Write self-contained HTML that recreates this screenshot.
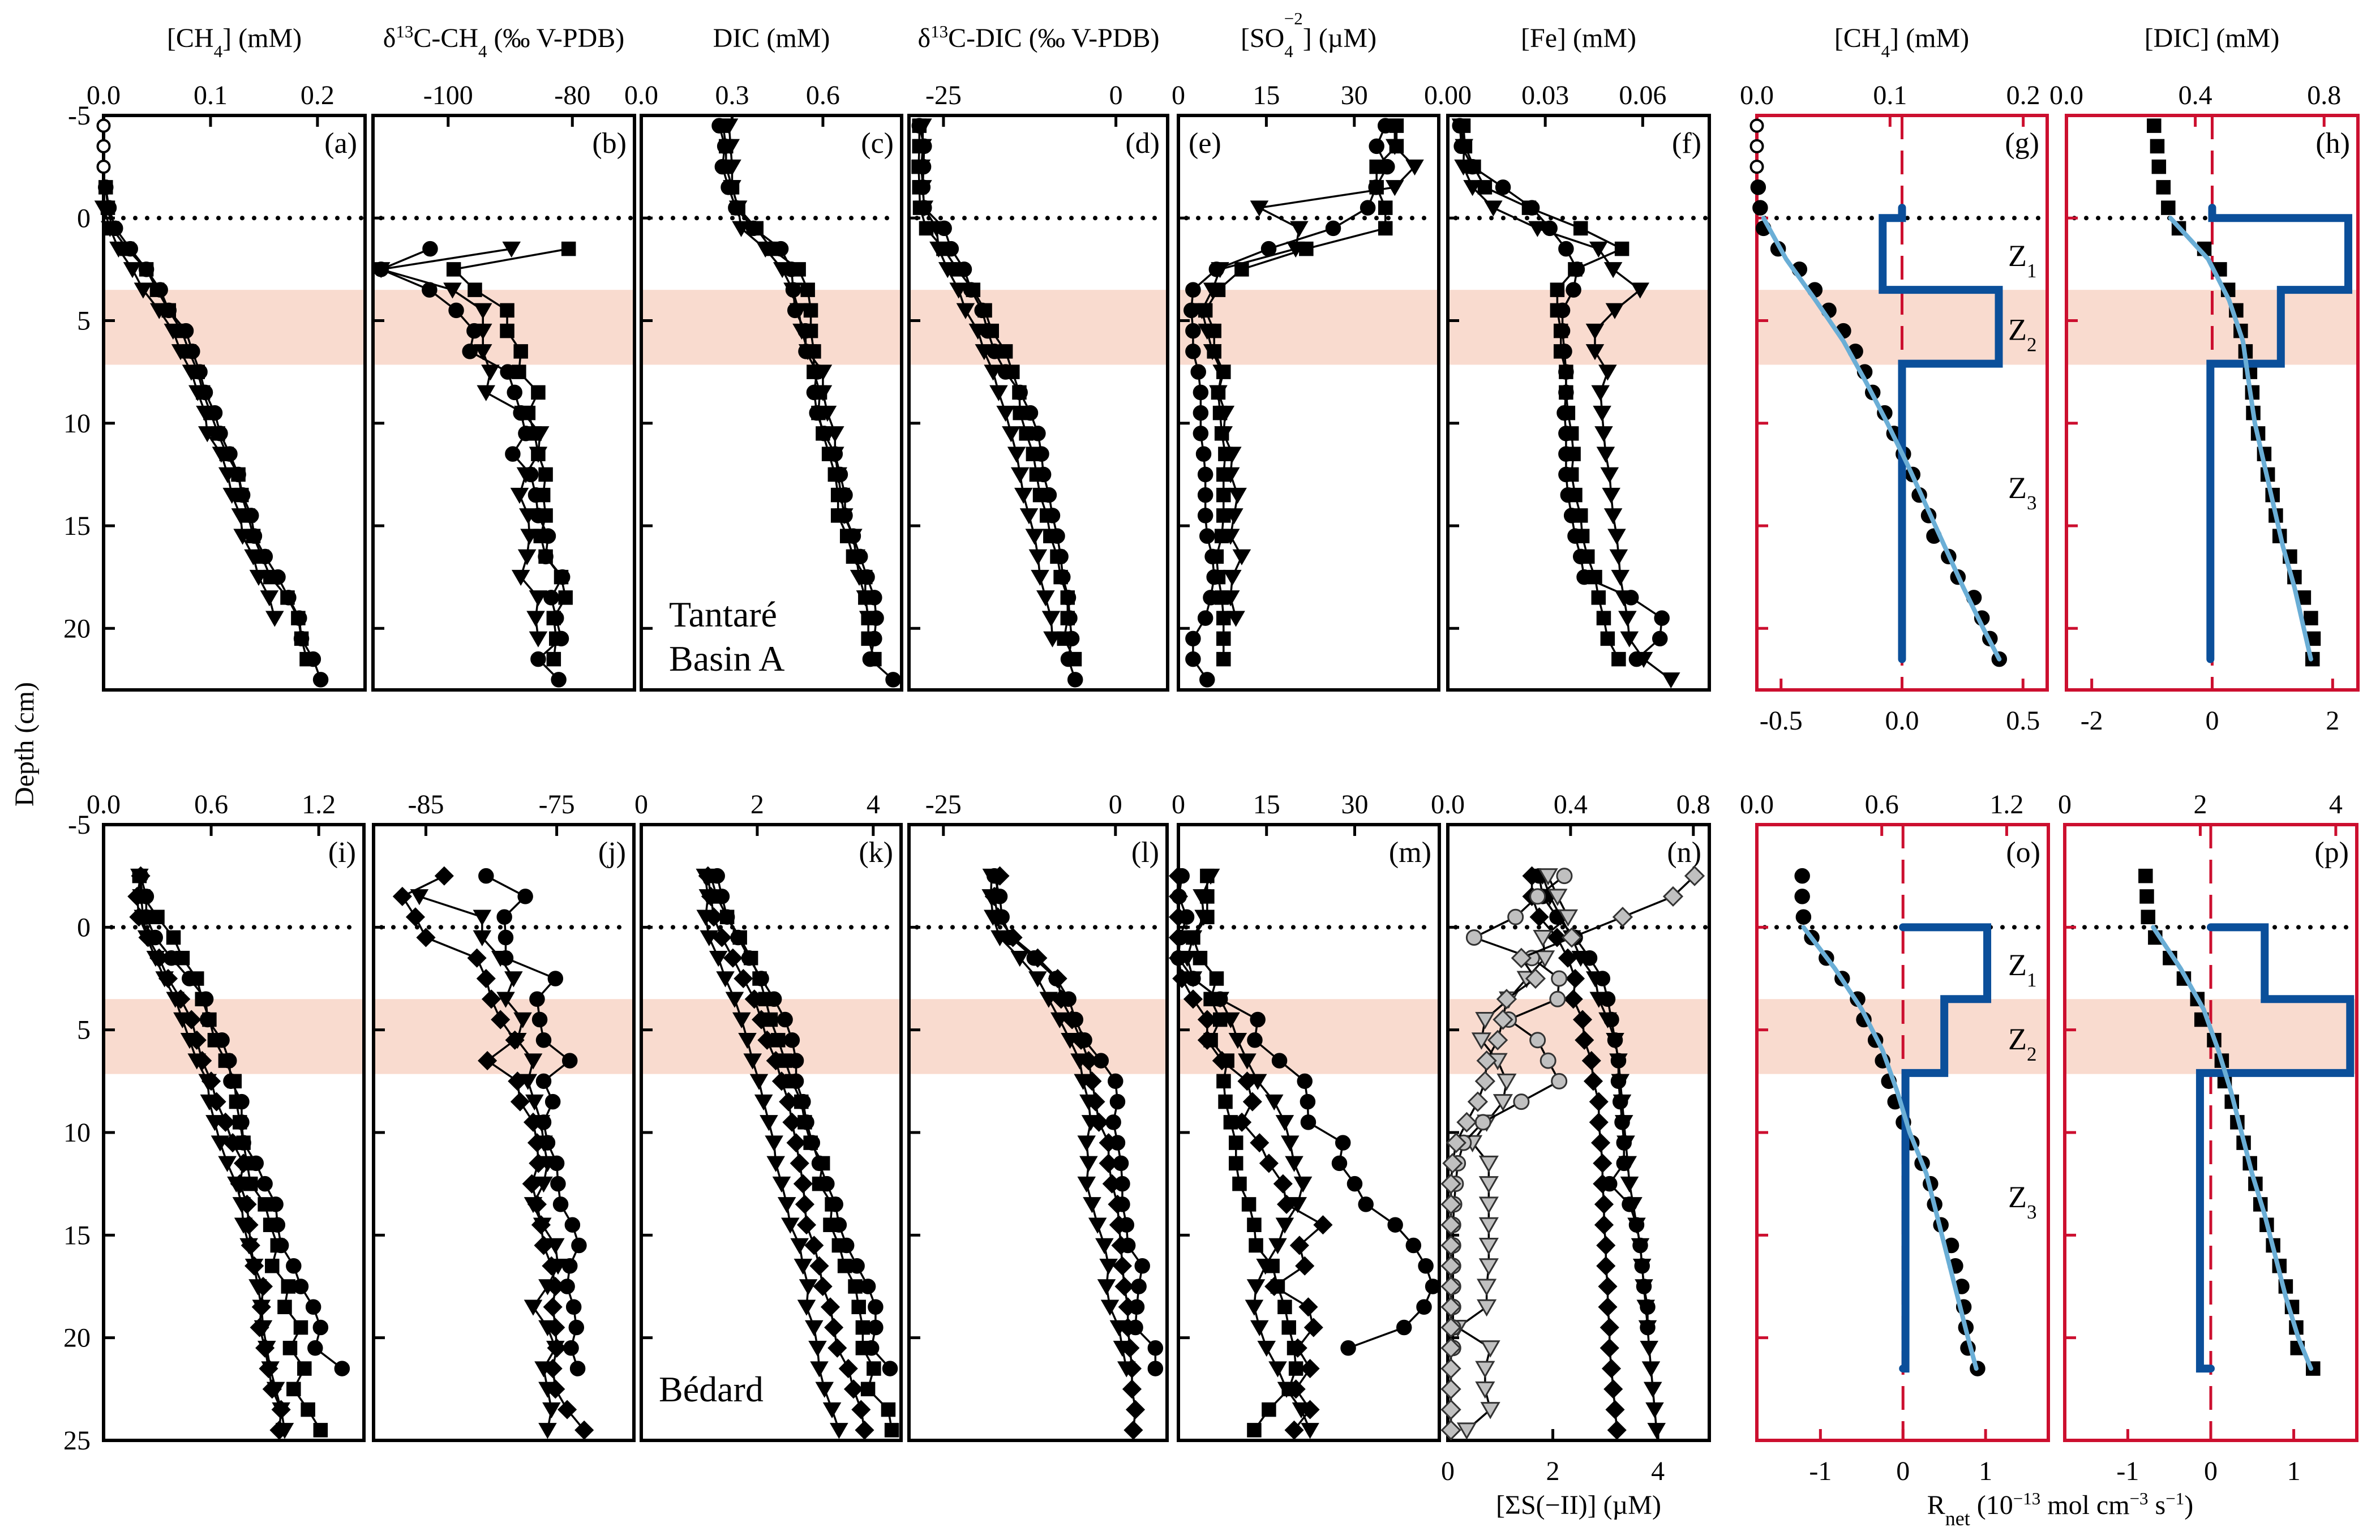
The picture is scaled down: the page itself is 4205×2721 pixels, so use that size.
<!DOCTYPE html>
<html><head><meta charset="utf-8"><title>Porewater profiles</title>
<style>
html,body{margin:0;padding:0;background:#fff;}
svg{display:block;}
svg text{font-family:"Liberation Serif","DejaVu Serif",serif !important;fill:#000;}
</style></head>
<body>
<svg id="chart" xmlns="http://www.w3.org/2000/svg" width="4205" height="2721" viewBox="0 0 4205 2721" font-family="Liberation Serif, DejaVu Serif, serif">
<rect x="0" y="0" width="4205" height="2721" fill="#fff"/>
<g id="static-text" font-size="48" font-family="Liberation Serif, DejaVu Serif, serif">
 <text x="414" y="83" text-anchor="middle">[CH<tspan baseline-shift="sub" font-size="31">4</tspan>] (mM)</text>
 <text x="890" y="83" text-anchor="middle">δ<tspan baseline-shift="super" font-size="31">13</tspan>C-CH<tspan baseline-shift="sub" font-size="31">4</tspan> (‰ V-PDB)</text>
 <text x="1363" y="83" text-anchor="middle">DIC (mM)</text>
 <text x="1835" y="83" text-anchor="middle">δ<tspan baseline-shift="super" font-size="31">13</tspan>C-DIC (‰ V-PDB)</text>
 <text x="2312" y="83" text-anchor="middle">[SO<tspan baseline-shift="sub" font-size="31">4</tspan><tspan dx="-16" dy="-40" font-size="31">−2</tspan><tspan dy="40">] (µM)</tspan></text>
 <text x="2789" y="83" text-anchor="middle">[Fe] (mM)</text>
 <text x="3360" y="83" text-anchor="middle">[CH<tspan baseline-shift="sub" font-size="31">4</tspan>] (mM)</text>
 <text x="3908" y="83" text-anchor="middle">[DIC] (mM)</text>
 <text x="59" y="1315" text-anchor="middle" transform="rotate(-90 59 1315)">Depth (cm)</text>
 <text x="1182" y="1107" font-size="64">Tantaré</text>
 <text x="1182" y="1185" font-size="64">Basin A</text>
 <text x="1164" y="2476" font-size="64">Bédard</text>
 <text x="2789" y="2675" text-anchor="middle">[ΣS(−II)] (µM)</text>
 <text x="3640" y="2675" text-anchor="middle">R<tspan baseline-shift="sub" font-size="36">net</tspan> (10<tspan baseline-shift="super" font-size="31">−13</tspan> mol cm<tspan baseline-shift="super" font-size="31">−3</tspan> s<tspan baseline-shift="super" font-size="31">−1</tspan>)</text>
</g>
</svg>
<script>
// ---------------- data ----------------
const aOpenDepths = [-4.5, -3.5, -2.5];
const aOpenVals = [0, 0, 0];
const aCirc = [.002,.005,.011,.025,.04,.053,.061,.077,.083,.09,.095,.104,.109,.118,.126,.13,.138,.141,.151,.163,.173,.183,.185,.196,.203];
const aSq = [.002,.004,.008,.022,.04,.05,.061,.073,.08,.088,.093,.1,.107,.115,.126,.129,.135,.14,.148,.156,.172,.182,.185,.19];
const aTri = [0,.006,.014,.027,.037,.052,.065,.072,.082,.088,.095,.097,.11,.116,.12,.128,.13,.14,.145,.155,.16];
const bCirc = [-102.9,-110.8,-103,-98.7,-95.8,-96.5,-90.4,-89.3,-88.3,-87.5,-89.6,-86.7,-85.9,-85.5,-83.9,-84.3,-81.6,-83.4,-82.6,-81.8,-85.5,-82.2];
const bTri = [-89.8,-110.8,-99.3,-94.4,-94.4,-94.4,-93.2,-93.9,-87.9,-85.2,-85.5,-87.5,-88.5,-87.1,-86.9,-87.3,-88.3,-85.5,-85.9,-85.5];
const bSq = [-80.6,-99.1,-95.7,-90.5,-90.5,-88.3,-88.6,-85.5,-87.1,-86.1,-85.5,-84.3,-84.7,-84.3,-85.1,-84.3,-81.8,-81.1,-83,-82.6,-83];
const cCirc = [.258,.276,.268,.288,.312,.371,.461,.496,.502,.508,.542,.544,.58,.571,.58,.604,.64,.657,.673,.673,.7,.723,.746,.77,.776,.77,.756,.832];
const cSq = [.27,.28,.28,.3,.32,.38,.43,.52,.55,.56,.56,.57,.57,.59,.585,.6,.62,.64,.65,.65,.68,.7,.74,.74,.75,.75,.77];
const cTri = [.29,.295,.3,.3,.32,.33,.41,.466,.5,.52,.53,.55,.6,.6,.615,.64,.64,.65,.66,.67,.7,.71,.72,.74,.75];
const dCirc = [-28.5,-27.8,-27.9,-28,-27.8,-24.9,-23.9,-22,-21,-19.4,-18.6,-17.6,-16,-13.9,-12.4,-11.3,-10.8,-10.5,-9.7,-9.2,-8.5,-8,-7.7,-6.9,-6.7,-6.4,-6.9,-5.9];
const dSq = [-28.5,-28.5,-28.6,-28.5,-28.4,-27.5,-25,-23,-20.7,-19,-18,-16,-15,-14,-13.9,-13,-12,-11.5,-11,-10,-9.5,-8.5,-8,-7,-7,-7.5,-6];
const dTri = [-28,-28,-28.2,-28,-27.8,-26,-25.7,-24.4,-22.8,-21.8,-20,-19.1,-17.8,-17,-16,-15.2,-14.4,-13.9,-13.4,-12.6,-11.8,-11.3,-11,-10.2,-9.4,-9.2];
const eCirc = [35.3,33.8,35.6,33.7,32.3,26.4,15.4,6.5,2.5,2.2,2.5,2.5,3.4,3.8,3.8,3.8,4.3,4.6,4.6,4.6,4.9,5.8,6.1,5.5,4.6,2.5,2.5,4.9];
const eSq = [37.2,37.2,33.8,33.8,35.3,35.3,21.8,10.8,6.8,4.6,6.1,6.1,7.7,6.8,7.1,7.4,8,7.7,7.7,7.7,7.4,6.5,6.8,7.4,7.7,7.7,7.7];
const eTri = [36.9,36.9,40.3,36.9,13.8,20.6,20,7.1,5.8,4,4.9,5.8,7.4,6.8,8,7.7,9.2,8.9,10.1,9.5,8.9,10.8,9.2,8.9,9.8];
const fCirc = [.0037,.0042,.0076,.017,.0259,.0314,.0364,.0398,.0387,.0353,.0353,.0359,.0364,.0364,.0359,.0364,.0364,.0364,.037,.0381,.0392,.0409,.042,.0564,.0659,.0653,.0581];
const fSq = [.0048,.0053,.008,.0114,.025,.0409,.0536,.0392,.0337,.0337,.0348,.0348,.0364,.0364,.037,.0381,.0387,.0381,.0392,.0409,.0414,.043,.0453,.0464,.048,.0492,.0526];
const fTri = [.004,.005,.0048,.0076,.014,.0276,.0464,.0509,.0592,.0514,.0453,.0453,.0492,.047,.0475,.048,.0486,.0498,.0503,.0509,.052,.0526,.0531,.0542,.0553,.0559,.0603,.0687];
const gCirc = [.001,.0025,.005,.016,.032,.0435,.054,.065,.074,.081,.087,.096,.103,.11,.117,.122,.129,.133,.144,.151,.163,.169,.175,.182];
const hSq = [.272,.282,.287,.301,.316,.349,.428,.476,.502,.527,.541,.556,.57,.577,.58,.595,.614,.625,.64,.65,.662,.694,.708,.737,.759,.767,.764];
const fitDepths = [0,2,4,6,8,10,12,14,16,18,20,21.5];
const gFit = [.005,.022,.044,.065,.082,.098,.113,.127,.141,.155,.170,.182];
const hFit = [.323,.44,.505,.548,.566,.585,.614,.643,.672,.708,.737,.759];
const oFit = [.224,.374,.504,.604,.674,.734,.814,.864,.914,.964,1.014,1.054];
const pFit = [1.304,1.708,2.05,2.267,2.453,2.609,2.764,2.95,3.106,3.261,3.447,3.634];
const gZoneBounds = [-0.5,0,3.5,7.1,21.5];
const gRates = [0,-0.08,0.40,0.0];
const hRates = [0,2.26,1.14,-0.03];
const oZoneBounds = [0,3.5,7.1,21.5];
const oRates = [1.02,0.5,0.03];
const pRates = [0.65,1.68,-0.13];

const iCirc = [.207,.238,.238,.288,.378,.479,.57,.58,.66,.7,.71,.77,.77,.78,.85,.9,.96,.97,.99,1.06,1.1,1.17,1.21,1.18,1.33];
const iSq = [.2,.22,.3,.39,.44,.52,.55,.59,.62,.68,.73,.74,.76,.78,.8,.82,.9,.93,.97,.94,1.03,1.01,1.1,1.04,1.12,1.06,1.14,1.21];
const iTri = [.2,.21,.22,.24,.29,.34,.4,.44,.48,.52,.58,.59,.62,.65,.69,.74,.77,.78,.81,.84,.86,.88,.89,.91,.93,.96,.99,1.01];
const iDia = [.207,.187,.197,.248,.31,.36,.43,.49,.52,.55,.6,.63,.68,.72,.78,.76,.8,.81,.82,.84,.89,.88,.87,.9,.92,.94,.99,.98];
const jCirc = [-80.4,-77.4,-79,-78.9,-78.9,-75.1,-76.5,-76.3,-76,-74,-76,-75.3,-76,-75.7,-75,-74.9,-74.7,-73.8,-73.3,-74,-74.2,-73.7,-73.5,-73.9,-73.4];
const jTri = [-85.5,-80.7,-80.7,-79.3,-78.3,-78.9,-77.6,-78,-76.8,-77.2,-76.7,-76.2,-76,-75.7,-76,-76.8,-76.1,-75.1,-74.9,-75.7,-76.8,-75.7,-75.1,-76,-75.7,-75.4,-75.7];
const jDia = [-83.6,-86.8,-85.8,-85,-81.1,-80.4,-80,-79.3,-78.2,-80.3,-78,-77.8,-76.8,-76.5,-76.4,-76.9,-76.5,-76.2,-76,-75.4,-75.1,-75.3,-75.1,-75,-75.3,-75.1,-74.2,-72.9];
const kCirc = [1.31,1.39,1.48,1.67,1.86,2.07,2.29,2.48,2.6,2.67,2.67,2.79,2.85,2.95,3.07,3.2,3.35,3.41,3.54,3.72,3.91,4.04,4.04,3.97,4.29];
const kSq = [1.2,1.3,1.48,1.7,1.89,2.04,2.14,2.23,2.36,2.48,2.6,2.76,2.82,2.92,3.13,3.07,3.29,3.26,3.41,3.51,3.69,3.75,3.82,3.82,4.01,3.91,4.26,4.32];
const kTri = [1.1,1.15,1.11,1.17,1.33,1.45,1.61,1.73,1.83,1.92,2.03,2.11,2.2,2.29,2.32,2.42,2.51,2.57,2.73,2.79,2.88,2.85,2.98,3.04,3.07,3.16,3.29,3.41];
const kDia = [1.15,1.2,1.25,1.39,1.58,1.76,1.95,2.07,2.17,2.32,2.42,2.54,2.6,2.67,2.73,2.79,2.82,2.85,2.98,3.07,3.13,3.26,3.32,3.38,3.57,3.66,3.79,3.85];
const lCirc = [-17.6,-16.8,-16.5,-15.2,-11.8,-8.6,-6.8,-5.8,-4.5,-2.1,0,0.3,-0.3,0.3,0.8,1,1,1.6,1.8,3.9,3.4,3.1,2.9,5.8,5.8];
const lTri = [-18,-18.1,-17.8,-16.8,-13.9,-11.3,-9.7,-8.1,-6.6,-5.2,-4.7,-3.9,-3.6,-4.2,-3.9,-4.2,-3.4,-2.6,-1.6,-1,-1.3,-0.8,0.5,1,1.6];
const lDia = [-16.8,-17.6,-17.1,-14.9,-11.3,-8.4,-7.9,-6.3,-5,-3.9,-3.4,-2.9,-2.4,-1,-1,-0.5,0.3,0.5,0.8,1,1.3,1.8,1.8,2.1,2.4,2.4,2.9,2.6];
const mCirc = [.6,.1,1.4,.3,0,2.5,7.1,13.5,13,17.2,21.5,22,22.1,28,27.4,30,31.9,36.9,40,42.1,43.3,41.8,38.4,28.9];
const mSq = [4.9,4.9,4.9,2.5,3.7,6.5,5.5,7.1,5.5,8.3,7.7,8,8.9,9.8,9.8,10.4,12,12.9,13.2,16,16.9,18.1,18.8,19.7,20,18.8,15.4,12.9];
const mTri = [5.5,4,4.3,2.5,1.5,2.5,7.1,8.9,10.1,11.7,13.5,16.3,18.1,19,19.7,21.2,20.3,18.1,16.9,14.8,13.2,12.9,13.8,15,16.9,18.4,20.9,22.4];
const mDia = [0,0,0,0,0,0.6,2.5,4.9,4.9,7.4,11.7,12.6,10.8,13.8,15.4,17.8,18.4,24.6,20.6,21.5,16.3,22.1,23,20.3,22.4,20,22.4,19.7];
const nFeDia = [.274,.274,.298,.356,.391,.415,.409,.439,.445,.468,.474,.492,.492,.498,.504,.504,.509,.509,.515,.515,.521,.521,.527,.527,.533,.539,.545,.551];
const nFeTri = [.309,.333,.368,.404,.433,.48,.492,.521,.545,.556,.562,.568,.574,.58,.586,.592,.604,.615,.627,.633,.639,.645,.651,.656,.662,.668,.674,.68];
const nFeCirc = [.298,.309,.356,.415,.462,.504,.521,.533,.545,.556,.556,.562,.568,.574,.574,.527,.592,.615,.627,.633,.639,.651,.651];
const nSCirc = [2.22,1.71,1.29,.5,1.6,2.12,2.09,1.16,1.71,1.91,2.12,1.4,.67,.3,.19,.15,.12,.1,.1,.1,.1,.1,.1,.1];
const nSTri = [1.91,2.09,2.29,1.81,1.85,1.5,1.16,.71,.64,.95,1.12,1.05,.74,.47,.78,.78,.78,.78,.78,.78,.74,.74,.19,.81,.71,.71,.81,.36];
const nSDia = [4.7,4.29,3.33,2.36,1.4,1.67,1.12,1.05,.95,.74,.71,.57,.36,.16,.09,.06,.06,.06,.06,.06,.06,.06,.06,.06,.06,.06,.06,.06];
const oCirc = [.218,.218,.224,.264,.334,.41,.484,.514,.57,.604,.634,.664,.704,.744,.794,.834,.854,.884,.934,.954,.984,.994,1.004,1.014,1.06];
const pSq = [1.193,1.211,1.23,1.335,1.553,1.758,1.957,2.019,2.205,2.317,2.36,2.466,2.547,2.64,2.733,2.814,2.888,2.981,3.075,3.168,3.261,3.354,3.416,3.435,3.665];

// tick arrays
const aTicks=[0,0.1,0.2], aTickLabels=['0.0','0.1','0.2'];
const bTicks=[-100,-80], bTickLabels=['-100','-80'];
const cTicks=[0,0.3,0.6], cTickLabels=['0.0','0.3','0.6'];
const dTicks=[-25,0], dTickLabels=['-25','0'];
const eTicks=[0,15,30], eTickLabels=['0','15','30'];
const fTicks=[0,0.03,0.06], fTickLabels=['0.00','0.03','0.06'];
const gTicks=[0,0.1,0.2], gTickLabels=['0.0','0.1','0.2'];
const gBotTicks=[-0.5,0,0.5], gBotTickLabels=['-0.5','0.0','0.5'];
const hTicks=[0,0.4,0.8], hTickLabels=['0.0','0.4','0.8'];
const hBotTicks=[-2,0,2], hBotTickLabels=['-2','0','2'];
const iTicks=[0,0.6,1.2], iTickLabels=['0.0','0.6','1.2'];
const jTicks=[-85,-75], jTickLabels=['-85','-75'];
const kTicks=[0,2,4], kTickLabels=['0','2','4'];
const lTicks=[-25,0], lTickLabels=['-25','0'];
const mTicks=[0,15,30], mTickLabels=['0','15','30'];
const nTicks=[0,0.4,0.8], nTickLabels=['0.0','0.4','0.8'];
const nBotTicks=[0,2,4], nBotTickLabels=['0','2','4'];
const oTicks=[0,0.6,1.2], oTickLabels=['0.0','0.6','1.2'];
const oBotTicks=[-1,0,1], oBotTickLabels=['-1','0','1'];
const pTicks=[0,2,4], pTickLabels=['0','2','4'];
const pBotTicks=[-1,0,1], pBotTickLabels=['-1','0','1'];
const topDepthTicks=[-5,0,5,10,15,20];
const botDepthTicks=[-5,0,5,10,15,20,25];

// ---------------- layout ----------------
const NS='http://www.w3.org/2000/svg';
const svg=document.getElementById('chart');
const FONT='Liberation Serif, DejaVu Serif, serif';
const ROWS=[{yTop:204,yBot:1219,d0:-5,d1:23},{yTop:1457,yBot:2545,d0:-5,d1:25}];
const PANELS={
 a:{row:0,x0:183,x1:645,dom:[0,0.2445]},
 b:{row:0,x0:659,x1:1121,dom:[-112.1,-70]},
 c:{row:0,x0:1133,x1:1593,dom:[0,0.86]},
 d:{row:0,x0:1606,x1:2063,dom:[-30,7.5]},
 e:{row:0,x0:2082,x1:2542,dom:[0,44.4],labelLeft:true},
 f:{row:0,x0:2558,x1:3020,dom:[0,0.0805]},
 g:{row:0,x0:3104,x1:3617,dom:[0,0.218],dom2:[-0.6,0.6],red:true},
 h:{row:0,x0:3651,x1:4166,dom:[0,0.905],dom2:[-2.42,2.42],red:true},
 i:{row:1,x0:183,x1:643,dom:[0,1.452]},
 j:{row:1,x0:660,x1:1120,dom:[-89,-69.1]},
 k:{row:1,x0:1133,x1:1592,dom:[0,4.48]},
 l:{row:1,x0:1606,x1:2062,dom:[-30,7.5]},
 m:{row:1,x0:2082,x1:2543,dom:[0,44.4]},
 n:{row:1,x0:2558,x1:3020,dom:[0,0.852],dom2:[0,4.98]},
 o:{row:1,x0:3104,x1:3619,dom:[0,1.40],dom2:[-1.77,1.76],red:true},
 p:{row:1,x0:3648,x1:4164,dom:[0,4.31],dom2:[-1.76,1.76],red:true}
};
const TICKS={a:[aTicks,aTickLabels],b:[bTicks,bTickLabels],c:[cTicks,cTickLabels],d:[dTicks,dTickLabels],e:[eTicks,eTickLabels],f:[fTicks,fTickLabels],g:[gTicks,gTickLabels],h:[hTicks,hTickLabels],i:[iTicks,iTickLabels],j:[jTicks,jTickLabels],k:[kTicks,kTickLabels],l:[lTicks,lTickLabels],m:[mTicks,mTickLabels],n:[nTicks,nTickLabels],o:[oTicks,oTickLabels],p:[pTicks,pTickLabels]};
const BOTTICKS={g:[gBotTicks,gBotTickLabels],h:[hBotTicks,hBotTickLabels],n:[nBotTicks,nBotTickLabels],o:[oBotTicks,oBotTickLabels],p:[pBotTicks,pBotTickLabels]};
const RED='#cc0f2f', BLUE='#0b4f9a', LIGHTBLUE='#6aaed6';

function mk(tag,attrs,parent){const e=document.createElementNS(NS,tag);for(const k in attrs)e.setAttribute(k,attrs[k]);(parent||svg).appendChild(e);return e;}
function xs(p,v){return p.x0+(v-p.dom[0])/(p.dom[1]-p.dom[0])*(p.x1-p.x0);}
function xs2(p,v){return p.x0+(v-p.dom2[0])/(p.dom2[1]-p.dom2[0])*(p.x1-p.x0);}
function ys(p,d){const r=ROWS[p.row];return r.yTop+(d-r.d0)/(r.d1-r.d0)*(r.yBot-r.yTop);}

for(const id in PANELS){
 const p=PANELS[id]; const r=ROWS[p.row]; const col=p.red?RED:'#000';
 const band=mk('rect',{x:p.x0,y:ys(p,3.5),width:p.x1-p.x0,height:ys(p,7.15)-ys(p,3.5),fill:'#f9dbcf'});
 
 
 const dots=mk('line',{x1:p.x0+14,x2:p.x1-6,y1:ys(p,0),y2:ys(p,0),stroke:'#000','stroke-width':8,'stroke-linecap':'round','stroke-dasharray':'0 21'});
 
 
 const frame=mk('rect',{x:p.x0,y:r.yTop,width:p.x1-p.x0,height:r.yBot-r.yTop,fill:'none',stroke:col,'stroke-width':6});
 
 
 const dt=p.row===0?topDepthTicks:botDepthTicks;
 dt.forEach(d=>{
  const t=mk('line',{x1:p.x0,x2:p.x0+20,y1:ys(p,d),y2:ys(p,d),stroke:col,'stroke-width':5});
  
  
 });
 const tk=TICKS[id];
 tk[0].forEach((v,k)=>{
  const x=xs(p,v);
  const t=mk('line',{x1:x,x2:x,y1:r.yTop,y2:r.yTop+20,stroke:col,'stroke-width':5});
  
  
  const lb=mk('text',{x:x,y:r.yTop-20,'text-anchor':'middle','font-size':48,'font-family':FONT});
  lb.textContent=tk[1][k];
  
  
 });
 if(BOTTICKS[id]){
  const bt=BOTTICKS[id];
  bt[0].forEach((v,k)=>{
   const x=xs2(p,v);
   const t=mk('line',{x1:x,x2:x,y1:r.yBot,y2:r.yBot-20,stroke:col,'stroke-width':5});
   
   
   const lb=mk('text',{x:x,y:r.yBot+70,'text-anchor':'middle','font-size':48,'font-family':FONT});
   lb.textContent=bt[1][k];
   
   
  });
 }
 const pl=mk('text',{x:p.labelLeft?p.x0+18:p.x1-14,y:r.yTop+66,'text-anchor':p.labelLeft?'start':'end','font-size':52,'font-family':FONT});
 pl.textContent='('+id+')';
 
 
}
topDepthTicks.forEach(d=>{
 const t=mk('text',{x:160,y:ys(PANELS.a,d)+16,'text-anchor':'end','font-size':48,'font-family':FONT});
 t.textContent=String(d);
 
 
});
botDepthTicks.forEach(d=>{
 const t=mk('text',{x:160,y:ys(PANELS.i,d)+16,'text-anchor':'end','font-size':48,'font-family':FONT});
 t.textContent=String(d);
 
 
});
['g','h','o','p'].forEach(id=>{
 const p=PANELS[id]; const r=ROWS[p.row]; const x=xs2(p,0);
 const l=mk('line',{x1:x,x2:x,y1:r.yTop,y2:r.yBot,stroke:RED,'stroke-width':5,'stroke-dasharray':'42 20'});
 
 
});

function marker(shape,x,y,fill,name){
 let e;
 const st=fill==='#c0c0c0'?'#333':'#000';
 const sw=fill==='#000'?1.5:3;
 if(shape==='circle') e=mk('circle',{cx:x,cy:y,r:13,fill:fill,stroke:st,'stroke-width':sw});
 else if(shape==='open') e=mk('circle',{cx:x,cy:y,r:10.5,fill:'#fff',stroke:'#000','stroke-width':4});
 else if(shape==='square') e=mk('rect',{x:x-12,y:y-12,width:24,height:24,fill:fill,stroke:st,'stroke-width':sw});
 else if(shape==='tri') e=mk('polygon',{points:`${x-15},${y-12} ${x+15},${y-12} ${x},${y+14}`,fill:fill,stroke:st,'stroke-width':sw});
 else e=mk('polygon',{points:`${x},${y-16} ${x+16},${y} ${x},${y+16} ${x-16},${y}`,fill:fill,stroke:st,'stroke-width':sw});
 
 
}
function series(id,vals,start,shape,opt){
 opt=opt||{};
 const p=PANELS[id]; const fx=opt.bottom?xs2:xs; const fill=opt.fill||'#000';
 const pts=vals.map((v,k)=>[fx(p,v),ys(p,start+k)]);
 if(opt.line!==false){
  const pl=mk('polyline',{points:pts.map(q=>q.join(',')).join(' '),fill:'none',stroke:'#000','stroke-width':3.5});
  
  
 }
 pts.forEach(q=>marker(shape,q[0],q[1],fill,'marker-'+id+'-'+shape));
}
function openPts(id,depths,vals){
 const p=PANELS[id];
 depths.forEach((d,k)=>marker('open',xs(p,vals[k]),ys(p,d),'#fff','marker-'+id+'-open-circle'));
}
function fitLine(id,vals){
 const p=PANELS[id];
 const pts=fitDepths.map((d,k)=>xs(p,vals[k])+','+ys(p,d)).join(' ');
 const l=mk('polyline',{points:pts,fill:'none',stroke:LIGHTBLUE,'stroke-width':8,'stroke-linecap':'round','stroke-linejoin':'round'});
 
 
}
function rateStep(id,bounds,rates,startR,endR){
 const p=PANELS[id]; const pts=[];
 if(startR!==null) pts.push([startR,bounds[0]]);
 pts.push([rates[0],bounds[0]]);
 for(let k=0;k<rates.length;k++){
  pts.push([rates[k],bounds[k+1]]);
  if(k+1<rates.length) pts.push([rates[k+1],bounds[k+1]]);
 }
 if(endR!==null) pts.push([endR,bounds[bounds.length-1]]);
 const s=pts.map(q=>xs2(p,q[0])+','+ys(p,q[1])).join(' ');
 const l=mk('polyline',{points:s,fill:'none',stroke:BLUE,'stroke-width':14,'stroke-linecap':'round','stroke-linejoin':'miter'});
 
 
}
function zoneLabels(id){
 const p=PANELS[id];
 [['1',1.9],['2',5.5],['3',13.2]].forEach(z=>{
  const t=mk('text',{x:3548,y:ys(p,z[1])+16,'font-size':54,'font-family':FONT});
  t.innerHTML='Z<tspan baseline-shift="sub" font-size="35">'+z[0]+'</tspan>';
  
  
 });
}

openPts('a',aOpenDepths,aOpenVals);
series('a',aTri,-0.5,'tri'); series('a',aSq,-1.5,'square'); series('a',aCirc,-1.5,'circle');
series('b',bTri,1.5,'tri'); series('b',bSq,1.5,'square'); series('b',bCirc,1.5,'circle');
series('c',cTri,-4.5,'tri'); series('c',cSq,-4.5,'square'); series('c',cCirc,-4.5,'circle');
series('d',dTri,-4.5,'tri'); series('d',dSq,-4.5,'square'); series('d',dCirc,-4.5,'circle');
series('e',eTri,-4.5,'tri'); series('e',eSq,-4.5,'square'); series('e',eCirc,-4.5,'circle');
series('f',fTri,-4.5,'tri'); series('f',fSq,-4.5,'square'); series('f',fCirc,-4.5,'circle');
openPts('g',aOpenDepths,aOpenVals);
series('g',gCirc,-1.5,'circle',{line:false});
rateStep('g',gZoneBounds,gRates,null,null);
fitLine('g',gFit);
zoneLabels('g');
series('h',hSq,-4.5,'square',{line:false});
rateStep('h',gZoneBounds,hRates,null,null);
fitLine('h',hFit);
series('i',iTri,-2.5,'tri'); series('i',iDia,-2.5,'dia'); series('i',iSq,-2.5,'square'); series('i',iCirc,-2.5,'circle');
series('j',jTri,-1.5,'tri'); series('j',jDia,-2.5,'dia'); series('j',jCirc,-2.5,'circle');
series('k',kTri,-2.5,'tri'); series('k',kDia,-2.5,'dia'); series('k',kSq,-2.5,'square'); series('k',kCirc,-2.5,'circle');
series('l',lTri,-2.5,'tri'); series('l',lDia,-2.5,'dia'); series('l',lCirc,-2.5,'circle');
series('m',mTri,-2.5,'tri'); series('m',mDia,-2.5,'dia'); series('m',mSq,-2.5,'square'); series('m',mCirc,-2.5,'circle');
series('n',nFeTri,-2.5,'tri'); series('n',nFeCirc,-2.5,'circle'); series('n',nFeDia,-2.5,'dia');
series('n',nSTri,-2.5,'tri',{bottom:true,fill:'#c0c0c0'}); series('n',nSCirc,-2.5,'circle',{bottom:true,fill:'#c0c0c0'}); series('n',nSDia,-2.5,'dia',{bottom:true,fill:'#c0c0c0'});
series('o',oCirc,-2.5,'circle',{line:false});
rateStep('o',oZoneBounds,oRates,0,0);
fitLine('o',oFit);
zoneLabels('o');
series('p',pSq,-2.5,'square',{line:false});
rateStep('p',oZoneBounds,pRates,0,0);
fitLine('p',pFit);
</script>
</body></html>
